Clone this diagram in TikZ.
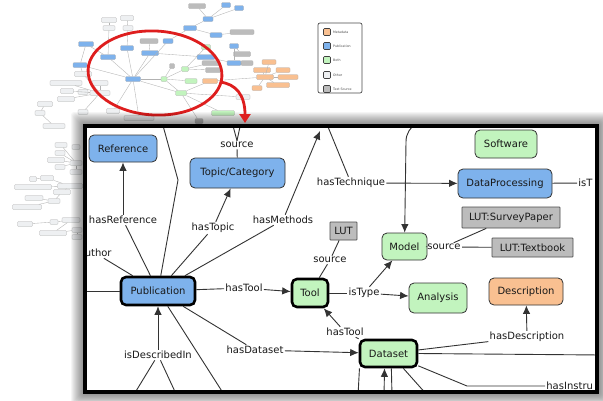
\documentclass[tikz,border=0pt]{standalone}
\usepackage{fontspec}
\setmainfont{DejaVu Sans}
\usetikzlibrary{arrows.meta}
\definecolor{cBlue}{RGB}{126,178,236}
\definecolor{cGreen}{RGB}{194,244,190}
\definecolor{cOrange}{RGB}{249,192,145}
\definecolor{cText}{RGB}{188,188,188}
\definecolor{cOther}{RGB}{238,240,242}
\definecolor{cRed}{RGB}{222,30,30}
\begin{document}
\begin{tikzpicture}[x=1pt,y=-1pt,
  mini/.style={rounded corners=1pt, draw=gray!65, line width=0.3pt, minimum height=5pt, inner sep=0pt},
  bgline/.style={draw=gray!60, line width=0.35pt},
  nd/.style={rounded corners=5pt, draw=black!80, line width=0.8pt, font=\fontsize{10}{12}\selectfont, text=black!90, inner sep=0pt},
  thk/.style={line width=2.6pt, draw=black},
  lut/.style={nd, rounded corners=0.6pt, fill=cText, draw=black!70},
  lbl/.style={font=\fontsize{10}{12}\selectfont, text=black!90, inner sep=1.2pt},
  ed/.style={draw=black!80, line width=0.9pt},
  arr/.style={ed, -{Latex[length=8.5pt,width=7.5pt]}},
  legsw/.style={rounded corners=1pt, draw=black!75, line width=0.6pt, minimum width=7pt, minimum height=7pt, inner sep=0pt},
  legtx/.style={font=\fontsize{3.2}{4}\selectfont, text=black!70, inner sep=0pt, anchor=west}
]
\useasboundingbox (0,0) rectangle (603,400);
\fill[white] (0,0) rectangle (603,400);

% ---------- background overview graph ----------
\foreach \n/\x/\y/\w/\c in {
 1/197/6/17/cText, 2/226/5/9/cBlue, 3/239/8/9/cBlue, 4/208/19/10/cBlue, 5/216/35/12/cBlue,
 6/242/32/24/cText, 7/190/28/13/cBlue, 8/168/41/10/cBlue, 9/149/41/18/cText, 10/127/48/13/cBlue,
 11/150/53/17/cBlue, 12/108/57/15/cBlue, 13/86/44/15/cBlue, 14/80/65/14/cBlue, 15/133/79/15/cBlue,
 16/164/79/6/cGreen, 17/185/69/7/cGreen, 18/191/81/12/cGreen, 19/172/66/5/cText, 20/206/57/18/cBlue,
 21/206/47/9/cGreen, 22/211/63/18/cText, 23/213/70/15/cText, 24/234/46/9/cBlue, 25/242/54/17/cText,
 26/234/63/14/cBlue, 27/247/63/12/cText, 28/210/81/15/cOrange, 29/181/93/11/cGreen, 30/223/113/23/cGreen,
 31/269/62/14/cOrange, 32/262/70/17/cOrange, 33/283/70/14/cOrange, 34/265/77/17/cOrange, 35/288/77/20/cOrange,
 36/257/88/10/cOrange, 37/278/85/23/cOrange,
 38/109/20/15/cOther, 39/127/18/13/cOther, 40/109/28/12/cOther, 41/128/28/10/cOther,
 42/83/74/17/cOther, 43/66/83/32/cOther, 44/100/83/16/cOther, 45/67/91/13/cOther, 46/83/92/10/cOther,
 47/100/93/20/cOther, 48/66/99/17/cOther, 49/45/104/15/cOther, 50/40/113/10/cOther, 51/83/112/10/cOther,
 52/54/126/22/cOther, 53/113/111/13/cOther, 54/139/118/30/cOther, 55/199/121/8/cText, 56/243/97/14/cOther,
 57/61/145/12/cOther, 58/76/147/8/cOther, 59/60/153/10/cOther, 60/56/160/17/cOther, 61/60/167/10/cOther,
 62/76/163/12/cOther, 63/76/172/12/cOther, 64/33/179/7/cOther, 65/47/178/13/cOther, 66/33/187/37/cOther,
 67/70/186/25/cOther, 68/62/192/17/cOther, 69/34/198/18/cOther, 70/54/201/12/cOther, 71/27/207/29/cOther,
 72/25/224/15/cOther, 73/54/222/8/cOther, 74/71/220/18/cOther, 75/53/233/27/cOther, 76/77/230/10/cOther,
 77/77/237/10/cOther}
 \node[mini, fill=\c, minimum width=\w pt] (b\n) at (\x,\y) {};

\foreach \p/\q in {15/10, 15/11, 15/12, 15/8, 15/16, 16/18, 16/17, 19/16, 17/22, 17/23, 15/29, 29/16,
 29/28, 20/11, 11/9, 8/7, 7/5, 7/4, 4/2, 4/3, 4/1, 5/6, 24/26, 24/25, 26/27, 20/26, 28/34, 31/34,
 32/34, 33/34, 35/34, 36/34, 37/34, 15/14, 14/13, 12/13, 42/14, 43/47, 44/47, 45/47, 46/47, 47/42,
 48/47, 49/50, 50/52, 51/47, 15/53, 15/54, 29/30, 29/56, 38/40, 39/41, 40/12, 41/10, 21/17, 55/29,
 57/62, 59/62, 60/62, 61/62, 62/63, 64/65, 65/67, 66/67, 67/68, 68/70, 69/70, 70/71, 72/73, 73/74,
 74/75, 75/76, 76/77}
 \draw[bgline] (b\p) -- (b\q);

% ---------- legend ----------
\node[rounded corners=2pt, draw=black!70, line width=0.7pt, fill=white, minimum width=44pt, minimum height=70pt, inner sep=0pt] (legend) at (340,58) {};
\node[legsw, fill=cOrange] (lg1) at (327,32) {};
\node[legsw, fill=cBlue] (lg2) at (327,46) {};
\node[legsw, fill=cGreen] (lg3) at (327,60) {};
\node[legsw, fill=cOther] (lg4) at (327,75) {};
\node[legsw, fill=cText] (lg5) at (327,89) {};
\node[legtx] (lt1) at (333,32) {Metadata};
\node[legtx] (lt2) at (333,46) {Publication};
\node[legtx] (lt3) at (333,60) {Both};
\node[legtx] (lt4) at (333,75) {Other};
\node[legtx] (lt5) at (333,89) {Text Source};

% ---------- red ellipse ----------
\draw[cRed, line width=2.8pt, rotate around={-3:(155,73)}] (155,73) ellipse [x radius=67pt, y radius=42pt];

% ---------- inset shadow ----------
\foreach \i in {1,...,14}
  \fill[black, opacity=0.04, rounded corners=3pt] (85-\i,126-\i) rectangle (597+\i,392+\i);
\fill[white] (85,126) rectangle (597,392);

% ---------- inset content ----------
\begin{scope}
\clip (85,126) rectangle (597,392);
\node[nd, fill=cBlue, minimum width=68pt, minimum height=27pt] (ref) at (123,148.5) {Reference};
\node[nd, fill=cBlue, minimum width=95pt, minimum height=30pt] (topic) at (237.5,173) {Topic/Category};
\node[nd, fill=cGreen, minimum width=62pt, minimum height=28pt] (soft) at (506,144) {Software};
\node[nd, fill=cBlue, minimum width=94pt, minimum height=29pt] (dp) at (505,183.5) {DataProcessing};
\node[lut, minimum width=98pt, minimum height=21pt] (lsp) at (511,217.5) {LUT:SurveyPaper};
\node[lut, minimum width=81pt, minimum height=19pt] (ltb) at (532.5,247.5) {LUT:Textbook};
\node[nd, fill=cGreen, minimum width=45pt, minimum height=27pt] (model) at (404.5,246.5) {Model};
\node[lut, minimum width=27pt, minimum height=18pt] (lut) at (343.5,231) {LUT};
\node[nd, thk, fill=cBlue, minimum width=74pt, minimum height=28pt] (pub) at (158,291) {Publication};
\node[nd, thk, fill=cGreen, minimum width=36pt, minimum height=28pt] (tool) at (310,293) {Tool};
\node[nd, fill=cGreen, minimum width=58pt, minimum height=30pt] (ana) at (438,298) {Analysis};
\node[nd, fill=cOrange, minimum width=74pt, minimum height=27pt] (desc) at (526,291.5) {Description};
\node[nd, thk, fill=cGreen, minimum width=57pt, minimum height=27pt] (data) at (388.5,353.5) {Dataset};

\node[lbl] (lRef) at (123,220) {hasReference};
\node[lbl, anchor=east] (lAuth) at (113,253) {author};
\node[lbl] (lTopic) at (213,228) {hasTopic};
\node[lbl] (lMeth) at (283,220) {hasMethods};
\node[lbl] (lTech) at (351,183) {hasTechnique};
\node[lbl] (src1) at (237,145) {source};
\node[lbl, anchor=west] (lIsT) at (577,183) {isT};
\node[lbl] (src2) at (444,247) {source};
\node[lbl] (src3) at (330,260) {source};
\node[lbl] (lTool) at (244,288) {hasTool};
\node[lbl] (lType) at (364,293) {isType};
\node[lbl] (lTool2) at (345,332) {hasTool};
\node[lbl] (lData) at (255,350) {hasDataset};
\node[lbl] (lDesc) at (158,355) {isDescribedIn};
\node[lbl] (lDescr) at (527,337) {hasDescription};
\node[lbl, anchor=west] (lInst) at (545,386) {hasInstru};

\coordinate (tA) at (162,122);
\coordinate (tBend) at (178,180);
\coordinate (v1) at (232,122);
\coordinate (v2) at (241,122);
\coordinate (mTop) at (320,131);
\coordinate (techTop) at (326,122);
\coordinate (modTop) at (418,122);
\coordinate (modBend) at (406,142);
\coordinate (pLeft) at (80,291);
\coordinate (d1) at (133,396);
\coordinate (d2) at (177,396);
\coordinate (d3) at (225,396);
\coordinate (dRight) at (601,355);
\coordinate (dInst) at (467,386);
\coordinate (e1) at (358,396);
\coordinate (e2) at (384,396);
\coordinate (e3) at (392,396);
\coordinate (e4) at (428,396);

% edges
\draw[ed] (lRef) -- (pub);
\draw[arr] (lRef) -- (ref);
\draw[ed] (lAuth) -- (pub);
\draw[ed] (tA) -- (tBend) -- (pub);
\draw[ed] (lTopic) -- (pub);
\draw[arr] (lTopic) -- (topic);
\draw[ed] (lMeth) -- (pub);
\draw[arr] (lMeth) -- (mTop);
\draw[ed] (v1) -- (src1.north);
\draw[ed] (v2) -- (src1.north);
\draw[ed] (src1) -- (topic);
\draw[ed] (techTop) -- (lTech);
\draw[arr] (lTech) -- (dp);
\draw[ed] (dp) -- (lIsT);
\draw[arr] (modTop) .. controls (410,128) and (406,133) .. (modBend) -- (model);
\draw[ed] (model) -- (src2);
\draw[ed] (src2) -- (ltb);
\draw[ed] (src2) -- (lsp);
\draw[ed] (lut) -- (src3);
\draw[ed] (src3) -- (tool);
\draw[ed] (pub) -- (lTool);
\draw[arr] (lTool) -- (tool);
\draw[ed] (tool) -- (lType);
\draw[arr] (lType) -- (ana);
\draw[arr] (lType) -- (model);
\draw[ed] (data) -- (lTool2);
\draw[arr] (lTool2) -- (tool);
\draw[ed] (pub) -- (lData);
\draw[arr] (lData) -- (data);
\draw[arr] (lDesc) -- (pub);
\draw[ed] (d1) -- (lDesc);
\draw[ed] (d2) -- (lDesc);
\draw[ed] (pub) -- (d3);
\draw[ed] (pLeft) -- (pub);
\draw[ed] (data) -- (lDescr);
\draw[arr] (lDescr) -- (desc);
\draw[ed] (data.east) -- (dRight);
\draw[ed] (data) -- (dInst) -- (lInst);
\draw[ed] (e1) -- (data.207);
\draw[arr] (e2) -- (data.255);
\draw[ed] (e3) -- (data.281);
\draw[ed] (e4) -- (data.315);
\end{scope}
\draw[black, line width=4pt] (85,126) rectangle (597,392);

% ---------- red arrow ----------
\coordinate (ra1) at (220,82);
\coordinate (ra2) at (245,123);
\draw[cRed, line width=2.8pt, -{Triangle[length=9pt,width=11pt]}] (ra1) .. controls (236,84) and (245,95) .. (ra2);
\end{tikzpicture}
\end{document}
